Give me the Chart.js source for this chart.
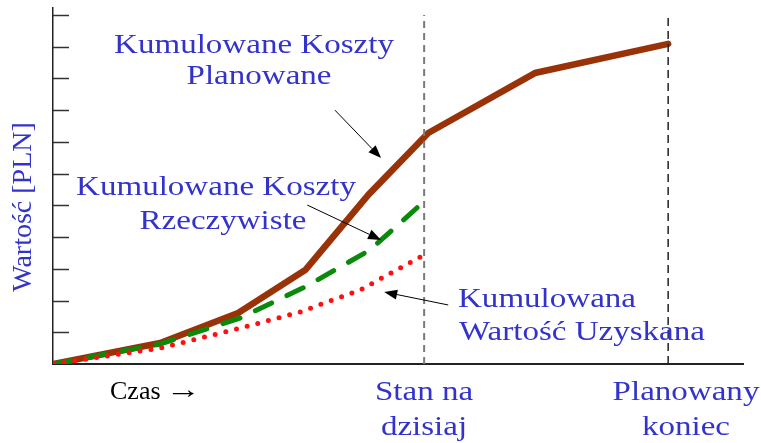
<!DOCTYPE html>
<html>
<head>
<meta charset="utf-8">
<script src="https://cdn.jsdelivr.net/npm/chart.js@4.4.0/dist/chart.umd.min.js"></script>
<style>
  body { margin: 0; background: #fff; }
  canvas { display: block; }
</style>
</head>
<body>
<canvas id="evChart" width="761" height="443"></canvas>
<script>
// time axis (arbitrary units, planned end = 12)
const planX = [0, 2.09, 3.61, 4.92, 6.15, 7.32, 9.40, 12];
const planY = [0, 0.66, 1.61, 2.96, 5.33, 7.28, 9.17, 10.09];

const actualX = [0, 2.09, 3.65, 4.92, 6.18, 7.16];
const actualY = [0, 0.63, 1.45, 2.43, 3.59, 5.01];

const earnedX = [0, 2.09, 3.65, 4.82, 5.99, 7.16];
const earnedY = [0, 0.50, 1.13, 1.64, 2.33, 3.37];

const todayX = 7.24;
const endX = 12;
const markerTop = 11;

const yTicks = [1, 2, 3, 4, 5, 6, 7, 8, 9, 10, 11];

const toPoints = (xs, ys) => xs.map((x, i) => ({ x: x, y: ys[i] }));

const BLUE = "#3333cc";
const SERIF = "'Liberation Serif', 'DejaVu Serif', serif";

// arrows in data units: [tailX, tailY, tipX, tipY]
const arrows = [
  [5.50, 8.00, 6.40, 6.49],
  [4.96, 5.01, 6.40, 3.91],
  [7.71, 1.86, 6.46, 2.27]
];

const notes = [
  { t: "Kumulowane Koszty", x: 254, y: 46, align: "center", color: BLUE },
  { t: "Planowane", x: 259, y: 77, align: "center", color: BLUE },
  { t: "Kumulowane Koszty", x: 216, y: 188, align: "center", color: BLUE },
  { t: "Rzeczywiste", x: 223, y: 222, align: "center", color: BLUE },
  { t: "Kumulowana", x: 458, y: 300, align: "left", color: BLUE },
  { t: "Wartość Uzyskana", x: 459, y: 333, align: "left", color: BLUE },
  { t: "Czas", x: 110, y: 392, align: "left", color: "#000", size: 26, sx: 1.0 },
  { t: "→", x: 166, y: 391, align: "left", color: "#000", size: 26, sx: 1.35 },
  { t: "Stan na", x: 424, y: 393, align: "center", color: BLUE },
  { t: "dzisiaj", x: 424, y: 428, align: "center", color: BLUE },
  { t: "Planowany", x: 686, y: 393, align: "center", color: BLUE },
  { t: "koniec", x: 686, y: 428, align: "center", color: BLUE }
];

const decorations = {
  id: "decorations",
  afterDatasetsDraw(chart) {
    const ctx = chart.ctx;
    const xs = chart.scales.x, ys = chart.scales.y;
    const left = chart.chartArea.left;

    // inner tick marks on the value axis
    ctx.save();
    ctx.strokeStyle = "#333";
    ctx.lineWidth = 1.5;
    yTicks.forEach(v => {
      const py = Math.round(ys.getPixelForValue(v)) + 0.5;
      ctx.beginPath();
      ctx.moveTo(left, py);
      ctx.lineTo(left + 16, py);
      ctx.stroke();
    });
    ctx.restore();

    // arrows
    ctx.save();
    ctx.strokeStyle = "#000";
    ctx.fillStyle = "#000";
    ctx.lineWidth = 1;
    arrows.forEach(a => {
      const x1 = xs.getPixelForValue(a[0]), y1 = ys.getPixelForValue(a[1]);
      const x2 = xs.getPixelForValue(a[2]), y2 = ys.getPixelForValue(a[3]);
      const ang = Math.atan2(y2 - y1, x2 - x1);
      const len = 13, half = 5;
      const bx = x2 - len * Math.cos(ang), by = y2 - len * Math.sin(ang);
      ctx.beginPath();
      ctx.moveTo(x1, y1);
      ctx.lineTo(bx, by);
      ctx.stroke();
      ctx.beginPath();
      ctx.moveTo(x2, y2);
      ctx.lineTo(bx + half * Math.sin(ang), by - half * Math.cos(ang));
      ctx.lineTo(bx - half * Math.sin(ang), by + half * Math.cos(ang));
      ctx.closePath();
      ctx.fill();
    });
    ctx.restore();

    // text labels (stretched horizontally like the original slide)
    ctx.save();
    ctx.textBaseline = "middle";
    notes.forEach(n => {
      ctx.save();
      ctx.font = (n.size || 28) + "px " + SERIF;
      ctx.translate(n.x, n.y);
      ctx.scale(n.sx || 1.18, 1);
      ctx.textAlign = n.align;
      ctx.fillStyle = n.color;
      ctx.fillText(n.t, 0, 0);
      ctx.restore();
    });

    // rotated value axis title
    ctx.translate(24, 207);
    ctx.rotate(-Math.PI / 2);
    ctx.font = "28px " + SERIF;
    ctx.textAlign = "center";
    ctx.fillStyle = BLUE;
    ctx.fillText("Wartość [PLN]", 0, 0);
    ctx.restore();
  }
};

new Chart(document.getElementById("evChart"), {
  type: "line",
  data: {
    datasets: [
      {
        label: "Stan na dzisiaj",
        data: toPoints([todayX, todayX], [0, markerTop]),
        borderColor: "#7a7a7a",
        borderWidth: 2,
        borderDash: [7, 5],
        pointRadius: 0
      },
      {
        label: "Planowany koniec",
        data: toPoints([endX, endX], [0, markerTop]),
        borderColor: "#222",
        borderWidth: 1.5,
        borderDash: [8, 5],
        pointRadius: 0
      },
      {
        label: "Kumulowana Wartość Uzyskana",
        data: toPoints(earnedX, earnedY),
        borderColor: "#ff1010",
        borderWidth: 5,
        borderDash: [0, 11],
        borderCapStyle: "round",
        pointRadius: 0
      },
      {
        label: "Kumulowane Koszty Rzeczywiste",
        data: toPoints(actualX, actualY),
        borderColor: "#0a8a0a",
        borderWidth: 5,
        borderDash: [18, 17],
        borderCapStyle: "round",
        pointRadius: 0
      },
      {
        label: "Kumulowane Koszty Planowane",
        data: toPoints(planX, planY),
        borderColor: "#9a3208",
        borderWidth: 6.5,
        borderJoinStyle: "round",
        borderCapStyle: "round",
        pointRadius: 0
      }
    ]
  },
  options: {
    responsive: false,
    animation: false,
    layout: {
      padding: { left: 53, top: 8, right: 18, bottom: 79 }
    },
    plugins: {
      legend: { display: false },
      tooltip: { enabled: false }
    },
    scales: {
      x: {
        type: "linear",
        min: 0,
        max: 13.46,
        grid: { display: false, drawTicks: false },
        ticks: { display: false },
        border: { display: true, color: "#222", width: 2 }
      },
      y: {
        type: "linear",
        min: 0,
        max: 11.22,
        grid: { display: false, drawTicks: false },
        ticks: { display: false },
        border: { display: true, color: "#222", width: 1.5 }
      }
    }
  },
  plugins: [decorations]
});
</script>
</body>
</html>
